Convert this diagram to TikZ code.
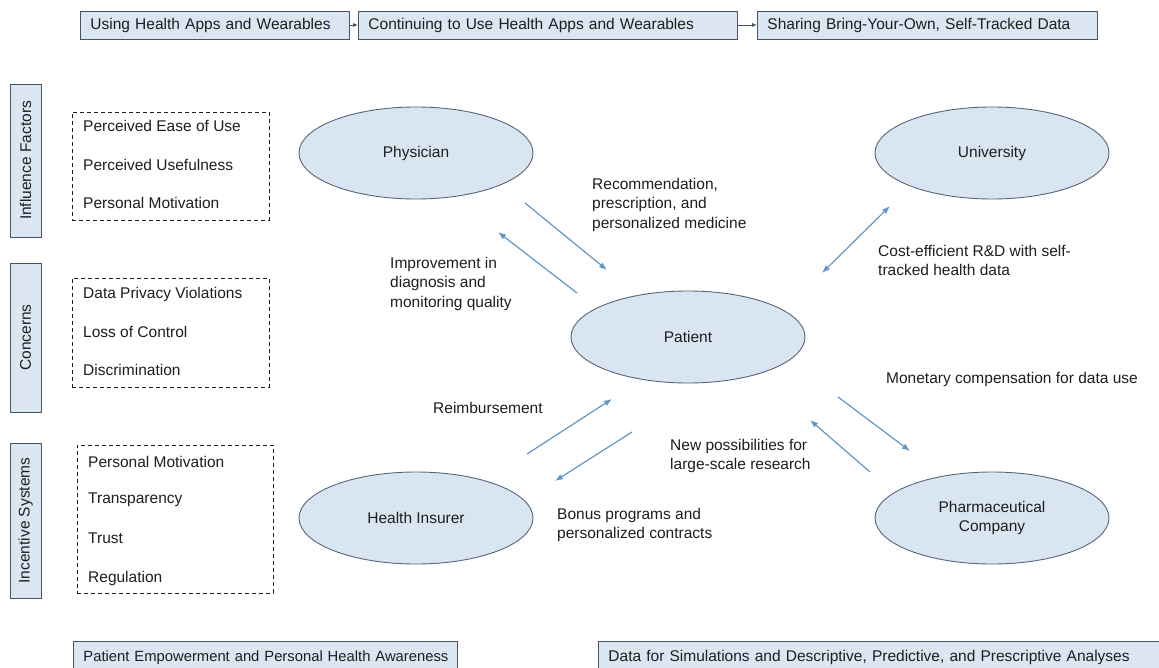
\documentclass[tikz,border=0pt]{standalone}
\usepackage{fontspec}
\setmainfont{Liberation Sans}
\usetikzlibrary{shapes.geometric,arrows.meta}
\definecolor{boxfill}{HTML}{DCE6F2}
\definecolor{boxdraw}{HTML}{44546A}
\definecolor{ellfill}{HTML}{DAE5F2}
\definecolor{elldraw}{HTML}{55667C}
\definecolor{arrowc}{HTML}{6496C4}
\definecolor{txt}{HTML}{1E1E1E}
\tikzset{
  every node/.style={text=txt, font=\fontsize{15.5}{19.5}\selectfont},
  topbox/.style={draw=boxdraw, fill=boxfill, line width=0.9pt, minimum height=28pt, inner xsep=10pt, inner ysep=0pt, anchor=west, align=left},
  sidebox/.style={draw=boxdraw, fill=boxfill, line width=0.9pt, rotate=90, minimum height=31pt, inner sep=0pt},
  dashbox/.style={draw=txt, dashed, line width=0.9pt, dash pattern=on 4pt off 3pt, inner sep=0pt},
  item/.style={anchor=west, inner sep=0pt},
  actor/.style={ellipse, draw=elldraw, fill=ellfill, line width=0.9pt, minimum width=234pt, minimum height=92pt, inner sep=0pt, align=center},
  lbl/.style={anchor=north west, align=left, inner sep=0pt},
  flow/.style={draw=arrowc, line width=1.2pt, -{Latex[length=8pt,width=6pt]}},
  flow2/.style={draw=arrowc, line width=1.2pt, {Latex[length=8pt,width=6pt]}-{Latex[length=8pt,width=6pt]}},
  seq/.style={draw=boxdraw, line width=0.8pt, -{Latex[length=5pt,width=4pt]}}
}
\begin{document}
\begin{tikzpicture}[x=1pt,y=-1pt]
\useasboundingbox[fill=white] (0,0) rectangle (1159,668);

% top sequence
\node[topbox, text width=249pt] (s1) at (80,25) {Using Health Apps and Wearables};
\node[topbox, text width=359pt] (s2) at (358,25) {Continuing to Use Health Apps and Wearables};
\node[topbox, text width=320pt] (s3) at (757,25) {Sharing Bring-Your-Own, Self-Tracked Data};
\draw[seq] (s1.east) -- (s2.west);
\draw[seq] (s2.east) -- (s3.west);

% side labels
\node[sidebox, minimum width=153pt] (inf) at (25.5,160.5) {Influence Factors};
\node[sidebox, minimum width=149pt] (con) at (25.5,337.5) {Concerns};
\node[sidebox, minimum width=155pt] (inc) at (25.5,520.5) {Incentive Systems};

% dashed boxes
\node[dashbox, minimum width=197pt, minimum height=108pt] (d1) at (170.5,166) {};
\node[item] (d1a) at (83,126) {Perceived Ease of Use};
\node[item] (d1b) at (83,165) {Perceived Usefulness};
\node[item] (d1c) at (83,203) {Personal Motivation};

\node[dashbox, minimum width=197pt, minimum height=109pt] (d2) at (170.5,332.5) {};
\node[item] (d2a) at (83,294) {Data Privacy Violations};
\node[item] (d2b) at (83,332) {Loss of Control};
\node[item] (d2c) at (83,370) {Discrimination};

\node[dashbox, minimum width=196pt, minimum height=148pt] (d3) at (175,519) {};
\node[item] (d3a) at (88,462) {Personal Motivation};
\node[item] (d3b) at (88,500) {Transparency};
\node[item] (d3c) at (88,538) {Trust};
\node[item] (d3d) at (88,578) {Regulation};

% actors
\node[actor] (phys) at (416,153) {Physician};
\node[actor] (univ) at (992,153) {University};
\node[actor] (pat) at (688,337) {Patient};
\node[actor] (ins) at (416,518) {Health Insurer};
\node[actor] (pharma) at (992,518) {Pharmaceutical\\Company};

% arrow end points
\coordinate (a1s) at (525,203); \coordinate (a1e) at (607,270);
\coordinate (a2s) at (577,293); \coordinate (a2e) at (498,232);
\coordinate (a3s) at (822,273); \coordinate (a3e) at (890,206);
\coordinate (a4s) at (527,454); \coordinate (a4e) at (612,399);
\coordinate (a5s) at (632,432); \coordinate (a5e) at (555,481);
\coordinate (a6s) at (838,397); \coordinate (a6e) at (910,451);
\coordinate (a7s) at (870,472); \coordinate (a7e) at (810,420);

\draw[flow] (a1s) -- (a1e);
\draw[flow] (a2s) -- (a2e);
\draw[flow2] (a3s) -- (a3e);
\draw[flow] (a4s) -- (a4e);
\draw[flow] (a5s) -- (a5e);
\draw[flow] (a6s) -- (a6e);
\draw[flow] (a7s) -- (a7e);

% labels
\node[lbl] (l1) at (592,178) {Recommendation,\\prescription, and\\personalized medicine};
\node[lbl] (l2) at (390,257) {Improvement in\\diagnosis and\\monitoring quality};
\node[lbl] (l3) at (878,245) {Cost-efficient R\&D with self-\\tracked health data};
\node[lbl] (l4) at (433,402) {Reimbursement};
\node[lbl] (l5) at (670,439) {New possibilities for\\large-scale research};
\node[lbl] (l6) at (557,508) {Bonus programs and\\personalized contracts};
\node[lbl] (l7) at (886,372) {Monetary compensation for data use};

% bottom boxes
\node[topbox, minimum height=32pt, text width=364pt, anchor=north west, font=\fontsize{14.8}{18}\selectfont] (b1) at (73,641) {\mbox{Patient Empowerment and Personal Health Awareness}};
\node[topbox, minimum height=32pt, text width=560pt, anchor=north west] (b2) at (598,641) {\mbox{Data for Simulations and Descriptive, Predictive, and Prescriptive Analyses}};
\end{tikzpicture}
\end{document}
